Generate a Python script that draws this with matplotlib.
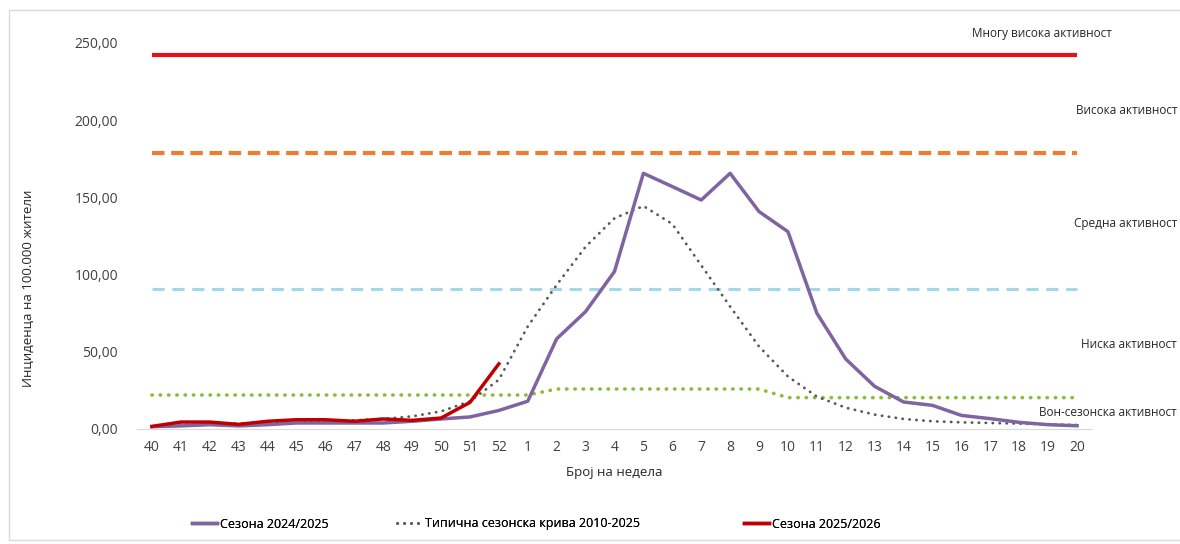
import numpy as np
import matplotlib.pyplot as plt
from matplotlib.patches import Rectangle

plt.rcParams['font.family'] = ['Open Sans', 'DejaVu Sans']

weeks = [str(w) for w in range(40, 53)] + [str(w) for w in range(1, 21)]

# Сезона 2024/2025
season_2425 = [1.5, 2.0, 2.8, 2.0, 2.8, 3.9, 3.9, 3.9, 3.9, 5.0, 6.5, 7.8, 12.0,
               18.0, 58.4, 76.0, 102.0, 165.6, 157.0, 148.3, 165.6, 140.8, 127.8,
               75.0, 45.3, 27.6, 17.5, 15.3, 8.8, 6.7, 4.3, 2.8, 2.1]

# Типична сезонска крива 2010-2025
typical = [1.3, 2.6, 3.5, 3.5, 3.9, 4.3, 5.0, 5.6, 6.5, 8.2, 11.4, 17.9, 31.9,
           66.4, 93.3, 118.0, 136.5, 144.4, 132.8, 106.0, 79.3, 53.4, 34.0,
           21.0, 13.8, 9.3, 6.5, 5.0, 4.3, 3.9, 3.5, 3.0, 2.6]

# Сезона 2025/2026 (до недела 52)
season_2526 = [1.7, 4.5, 4.5, 3.0, 5.0, 6.0, 6.0, 5.0, 6.5, 5.6, 7.1, 17.2, 42.2]

# прагови на активност
very_high = [242.0] * 33
high = [179.0] * 33
medium = [90.5] * 33
low = [22.0] * 14 + [25.9] * 8 + [20.3] * 11

x = np.arange(len(weeks))

fig = plt.figure(figsize=(11.8, 5.44), dpi=100)
ax = fig.add_axes([0.1165, 0.2114, 0.8085, 0.7096])

ax.plot(x, very_high, color='#E8101A', lw=3, solid_capstyle='butt')
ax.plot(x, high, color='#ED7D31', lw=3, ls=(0, (3, 1.6)))
ax.plot(x, medium, color='#A5D8E6', lw=2.2, ls=(0, (4, 2.5)))
ax.plot(x, low, color='#8DBB3C', lw=2.6, ls=(0, (0.1, 2.2)), dash_capstyle='round')

l_typ, = ax.plot(x, typical, color='#595959', lw=2, ls=(0, (0.1, 2.4)), dash_capstyle='round')
l_2425, = ax.plot(x, season_2425, color='#8064A2', lw=2.5)
l_2526, = ax.plot(x[:len(season_2526)], season_2526, color='#C00000', lw=2.5)

ax.set_xlim(-0.5, len(weeks) - 0.5)
ax.set_ylim(0, 250)
ax.set_xticks(x)
ax.set_xticklabels(weeks)
ax.set_yticks([0, 50, 100, 150, 200, 250])
ax.set_yticklabels(['0,00', '50,00', '100,00', '150,00', '200,00', '250,00'])
ax.tick_params(length=0, labelsize=10, colors='#404040')
ax.tick_params(axis='x', pad=8)
ax.tick_params(axis='y', pad=14)
for s in ['top', 'right', 'left']:
    ax.spines[s].set_visible(False)
ax.spines['bottom'].set_color('#D9D9D9')

ax.set_xlabel('Број на недела', fontsize=9.5, color='#262626', labelpad=8)
fig.text(0.024, 0.47, 'Инциденца на 100.000 жители', rotation=90, fontsize=9.5,
         color='#262626', ha='center', va='center')

# ознаки за нивоа на активност
lvl = [('Многу висока активност', 1112, 33), ('Висока активност', 1177, 110),
       ('Средна активност', 1177, 224), ('Ниска активност', 1177, 344),
       ('Вон-сезонска активност', 1177, 413)]
for t, px, py in lvl:
    fig.text(px / 1180, 1 - py / 544, t, fontsize=8.5, color='#262626',
             ha='right', va='center')

# рамка
fig.patches.append(Rectangle((9 / 1180, 4 / 544), 1.2, 530 / 544, transform=fig.transFigure,
                             fill=False, edgecolor='#D9D9D9', lw=1))

# легенда - три посебни ставки
entries = [(l_2425, 'Сезона 2024/2025', 192), (l_typ, 'Типична сезонска крива 2010-2025', 397),
           (l_2526, 'Сезона 2025/2026', 744)]
for hnd, lab, px in entries:
    lg = fig.legend([hnd], [lab], loc='center left', bbox_to_anchor=(px / 1180, 1 - 524 / 544),
                    frameon=False, fontsize=9, handlelength=2, handletextpad=0.2,
                    borderpad=0, borderaxespad=0)
    fig.add_artist(lg)

fig.savefig('out.png', dpi=100)
